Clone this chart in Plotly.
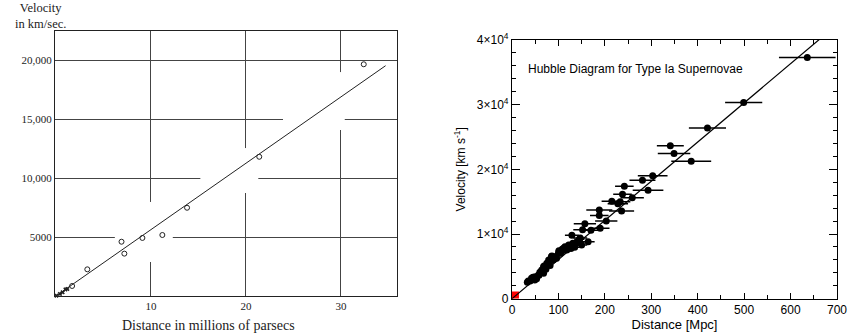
import plotly.graph_objects as go

# ---------------- Left panel: Hubble (1936-style) ----------------
hub_circ_d = [1.7, 3.3, 6.9, 7.2, 9.1, 11.2, 13.8, 21.4, 32.4]
hub_circ_v = [850, 2260, 4600, 3590, 4920, 5170, 7480, 11800, 19640]
hub_x_d = [0.05, 0.42, 0.7, 1.0, 1.2]
hub_x_v = [30, 170, 310, 560, 600]
hub_line_d = [0, 34.7]
hub_line_v = [0, 19520]
left_xticks = [10, 20, 30]
left_xtext = ["10", "20", "30"]
left_yticks = [5000, 10000, 15000, 20000]
left_ytext = ["5000", "10,000", "15,000", "20,000"]
# breaks in the printed grid lines (grid value, gap start, gap end)
hgrid_gaps = [(5000, 6.2, 12.3), (10000, 15.2, 21.3), (15000, 23.9, 30.4)]
vgrid_gaps = [(10, 2880, 7970), (20, 8730, 12540), (30, 14070, 18980)]

# ---------------- Right panel: Type Ia supernovae ----------------
sn_d = [636, 499, 421, 341, 349, 386, 303, 281, 293, 242, 238, 259, 215, 233, 228,
        236, 188, 188, 203, 157, 190, 170, 152, 129, 164, 147, 142,
        33, 35, 39, 42, 45, 49, 50, 53, 57, 58, 60, 64, 64, 68, 68, 69, 73, 75, 76,
        78, 79, 82, 85, 86, 89, 92, 93, 96, 100, 101, 104, 107, 108, 111, 114, 118,
        118, 122, 125, 127, 131, 135, 136, 139, 145, 150]
sn_v = [37300, 30350, 26400, 23650, 22450, 21250, 19000, 18300, 16750, 17400, 16150,
        15600, 15050, 15000, 14700, 13550, 13700, 12850, 12000, 11600, 10900, 10600,
        10650, 9800, 8800, 9400, 8750,
        2530, 2740, 2730, 3150, 3300, 2890, 3400, 3090, 3650, 3610, 4100, 4250, 4440,
        3920, 4950, 5050, 4540, 5470, 5460, 5210, 5980, 5150, 6500, 6600, 5980, 6500,
        6250, 6240, 7020, 7420, 7010, 7270, 7630, 7790, 8040, 7530, 7780, 8300, 8040,
        7780, 8560, 7940, 8460, 8660, 9180, 8300]
sn_err = [61, 40, 40, 29, 35, 43, 32, 28, 33, 20, 20, 25, 22, 22, 22,
          27, 28, 20, 24, 24, 20, 24, 20, 15, 14, 15, 14,
          2, 2, 3, 3, 3, 3, 3, 4, 4, 4, 4, 4, 4, 5, 5, 5, 5, 5, 5,
          5, 6, 6, 6, 6, 6, 6, 7, 7, 7, 7, 7, 7, 8, 8, 8, 8,
          8, 9, 9, 9, 9, 10, 10, 10, 11, 12]
fit_d = [0, 700]
fit_v = [0, 42390]
right_xticks = [0, 100, 200, 300, 400, 500, 600, 700]
right_yticks = [0, 10000, 20000, 30000, 40000]
right_ytext = ["0", "1×10<sup>4</sup>", "2×10<sup>4</sup>", "3×10<sup>4</sup>", "4×10<sup>4</sup>"]

serif = "Liberation Serif, DejaVu Serif, serif"
sans = "Liberation Sans, DejaVu Sans, sans-serif"

fig = go.Figure()

# Left traces
fig.add_trace(go.Scatter(x=hub_line_d, y=hub_line_v, mode="lines",
                         line=dict(color="#222", width=1), xaxis="x", yaxis="y",
                         showlegend=False, hoverinfo="skip"))
fig.add_trace(go.Scatter(x=hub_circ_d, y=hub_circ_v, mode="markers",
                         marker=dict(symbol="circle-open", size=5, color="#222",
                                     line=dict(width=1)),
                         xaxis="x", yaxis="y", showlegend=False, cliponaxis=False))
fig.add_trace(go.Scatter(x=hub_x_d, y=hub_x_v, mode="markers",
                         marker=dict(symbol="x", size=4, color="#222"),
                         xaxis="x", yaxis="y", showlegend=False, cliponaxis=False))

# Right traces
fig.add_trace(go.Scatter(x=fit_d, y=fit_v, mode="lines",
                         line=dict(color="black", width=1.2), xaxis="x2", yaxis="y2",
                         showlegend=False, hoverinfo="skip"))
fig.add_trace(go.Scatter(x=sn_d, y=sn_v, mode="markers",
                         marker=dict(symbol="circle", size=7, color="black"),
                         error_x=dict(type="data", array=sn_err, color="black",
                                      thickness=1.5, width=0),
                         xaxis="x2", yaxis="y2", showlegend=False))

shapes = [dict(type="rect", xref="x2", yref="y2", x0=0, x1=15, y0=0, y1=1100,
               fillcolor="red", line=dict(width=0), layer="below")]
for gy, a, b in hgrid_gaps:
    shapes.append(dict(type="rect", xref="x", yref="y", x0=a, x1=b,
                       y0=gy - 150, y1=gy + 150, fillcolor="white",
                       line=dict(width=0), layer="between"))
for gx, a, b in vgrid_gaps:
    shapes.append(dict(type="rect", xref="x", yref="y", x0=gx - 0.3, x1=gx + 0.3,
                       y0=a, y1=b, fillcolor="white",
                       line=dict(width=0), layer="between"))

fig.update_layout(
    width=855, height=336,
    margin=dict(l=0, r=0, t=0, b=0),
    paper_bgcolor="white", plot_bgcolor="white",
    xaxis=dict(domain=[55/855, 397/855], range=[-0.1, 35.9], anchor="y",
               automargin=False,
               tickvals=left_xticks, ticktext=left_xtext, ticks="",
               showgrid=True, gridcolor="#444", gridwidth=1,
               showline=True, mirror=True, linecolor="#222", linewidth=1,
               zeroline=False, tickfont=dict(family=serif, size=11, color="#222")),
    yaxis=dict(domain=[40/336, 305/336], range=[0, 22460], anchor="x",
               automargin=False,
               tickvals=left_yticks, ticktext=left_ytext, ticks="",
               showgrid=True, gridcolor="#444", gridwidth=1,
               showline=True, mirror=True, linecolor="#222", linewidth=1,
               zeroline=False, tickfont=dict(family=serif, size=11, color="#222")),
    xaxis2=dict(domain=[512/855, 837/855], range=[0, 700], anchor="y2",
                automargin=False,
                tickvals=right_xticks, ticks="inside", ticklen=6, tickcolor="black",
                minor=dict(dtick=50, ticks="inside", ticklen=4, tickcolor="black"),
                showgrid=False, zeroline=False,
                showline=True, mirror="allticks", linecolor="black", linewidth=1.2,
                tickfont=dict(family=sans, size=12, color="black"),
                title=dict(text="Distance [Mpc]", standoff=1,
                           font=dict(family=sans, size=13, color="black"))),
    yaxis2=dict(domain=[37.3/336, 296/336], range=[0, 40000], anchor="x2",
                automargin=False,
                tickvals=right_yticks, ticktext=right_ytext,
                ticks="inside", ticklen=8, tickcolor="black",
                minor=dict(dtick=2000, ticks="inside", ticklen=4, tickcolor="black"),
                showgrid=False, zeroline=False,
                showline=True, mirror="allticks", linecolor="black", linewidth=1.2,
                tickfont=dict(family=sans, size=12, color="black"),
                title=dict(text="Velocity [km s<sup>-1</sup>]", standoff=8,
                           font=dict(family=sans, size=12, color="black"))),
    shapes=shapes,
    annotations=[
        dict(text="Velocity<br>in km/sec.", x=40/855, y=1 - 16/336,
             xref="paper", yref="paper",
             showarrow=False, xanchor="center", yanchor="middle", align="center",
             font=dict(family=serif, size=12.5, color="#222")),
        dict(text="Distance in millions of parsecs", x=208.5/855, y=1 - 325/336,
             xref="paper", yref="paper", showarrow=False, xanchor="center",
             yanchor="middle", font=dict(family=serif, size=14, color="#222")),
        dict(text="Hubble Diagram for Type Ia Supernovae", x=526/855, y=1 - 69/336,
             xref="paper", yref="paper", showarrow=False, xanchor="left",
             yanchor="middle", font=dict(family=sans, size=12, color="black")),
    ],
)

fig.write_html("out.html", config={"displayModeBar": False},
               post_script="document.body.style.margin='0';document.body.style.overflow='hidden';")
